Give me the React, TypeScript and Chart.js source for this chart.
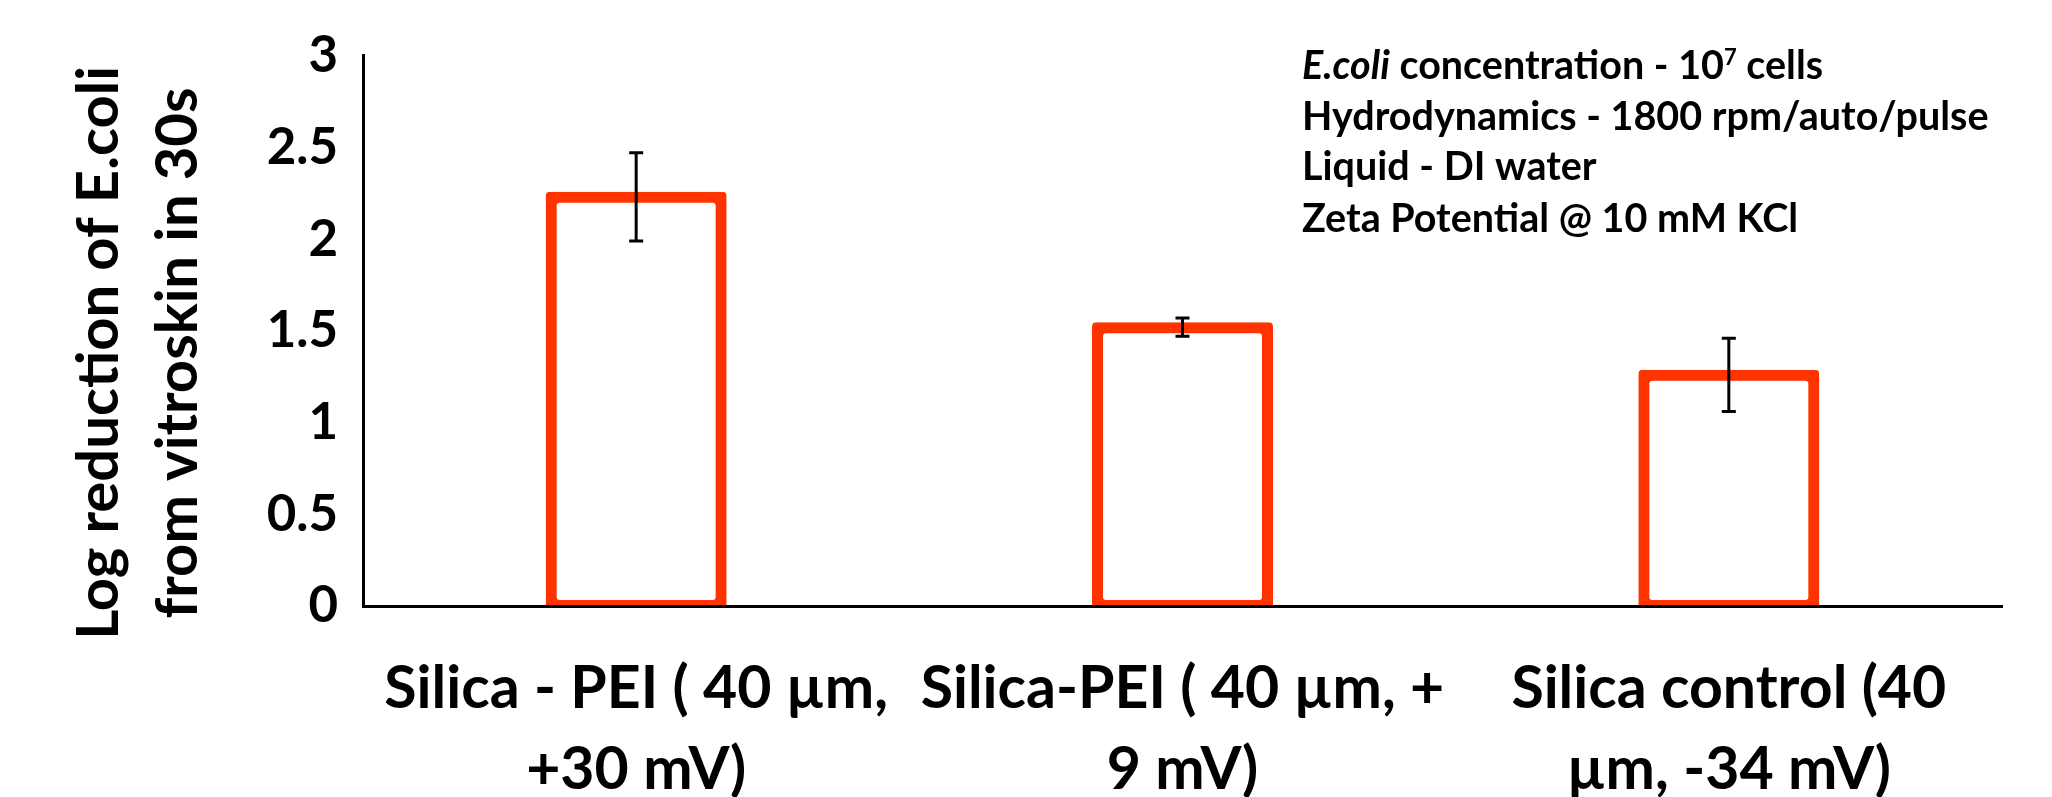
import React, { useEffect, useRef } from "react";
import { Chart, registerables } from "chart.js";

Chart.register(...registerables);

const categories: string[][] = [
  ["Silica - PEI ( 40 µm,", "+30 mV)"],
  ["Silica-PEI ( 40 µm, +", "9 mV)"],
  ["Silica control (40", "µm, -34 mV)"],
];
const values: number[] = [2.23, 1.52, 1.26];
const errors: number[] = [0.24, 0.05, 0.2];
const yTicks: number[] = [0, 0.5, 1, 1.5, 2, 2.5, 3];
const yTitle: string[] = ["Log reduction of E.coli", "from vitroskin in 30s"];

type Seg = { text: string; italic?: boolean; sup?: boolean };
const noteLines: Seg[][] = [
  [{ text: "E.coli", italic: true }, { text: " concentration - 10" }, { text: "7", sup: true }, { text: " cells" }],
  [{ text: "Hydrodynamics - 1800 rpm/auto/pulse" }],
  [{ text: "Liquid - DI water" }],
  [{ text: "Zeta Potential @ 10 mM KCl" }],
];

const FONT = "Lato";
const BAR_COLOR = "#FF3300";

const errorBarPlugin = {
  id: "errorBars",
  afterDatasetsDraw(chart: any) {
    const ctx = chart.ctx;
    const meta = chart.getDatasetMeta(0);
    const y = chart.scales.y;
    ctx.save();
    ctx.strokeStyle = "#000";
    ctx.lineWidth = 3;
    meta.data.forEach((bar: any, i: number) => {
      const x = bar.x;
      const top = y.getPixelForValue(values[i] + errors[i]);
      const bot = y.getPixelForValue(values[i] - errors[i]);
      ctx.beginPath();
      ctx.moveTo(x, top);
      ctx.lineTo(x, bot);
      ctx.moveTo(x - 7, top);
      ctx.lineTo(x + 7, top);
      ctx.moveTo(x - 7, bot);
      ctx.lineTo(x + 7, bot);
      ctx.stroke();
    });
    ctx.restore();
  },
};

const textPlugin = {
  id: "texts",
  afterDraw(chart: any) {
    const ctx = chart.ctx;
    ctx.save();
    ctx.fillStyle = "#000";
    // y-axis title (two rotated lines), baseline positions
    ctx.font = `bold 58px ${FONT}`;
    ctx.textAlign = "center";
    ctx.textBaseline = "alphabetic";
    const titleBaseX = [118, 197];
    yTitle.forEach((line, i) => {
      ctx.save();
      ctx.translate(titleBaseX[i], 353);
      ctx.rotate(-Math.PI / 2);
      ctx.fillText(line, 0, 0);
      ctx.restore();
    });
    // annotation block
    const size = 39.5;
    const startX = 1302;
    const baseY = [79, 130, 180, 232];
    ctx.textAlign = "left";
    noteLines.forEach((segs, li) => {
      let x = startX;
      segs.forEach((s) => {
        const fs = s.sup ? 22 : size;
        ctx.font = `${s.italic ? "italic " : ""}bold ${fs}px ${FONT}`;
        const yy = s.sup ? baseY[li] - 14 : baseY[li];
        ctx.fillText(s.text, x, yy);
        x += ctx.measureText(s.text).width;
      });
    });
    ctx.restore();
  },
};

export default function App() {
  const ref = useRef<HTMLCanvasElement | null>(null);
  useEffect(() => {
    document.body.style.margin = "0";
    const canvas = ref.current;
    if (!canvas) return;
    const chart = new Chart(canvas, {
      type: "bar",
      data: {
        labels: categories,
        datasets: [
          {
            data: values,
            backgroundColor: "rgba(255,255,255,0)",
            borderColor: BAR_COLOR,
            // thin border + inflate so the 11px outline straddles the bar edge (Excel style)
            borderWidth: 1,
            inflateAmount: 5,
            borderSkipped: false,
            borderRadius: 4,
            barPercentage: 0.313,
            categoryPercentage: 1,
          },
        ],
      },
      options: {
        responsive: false,
        animation: false,
        devicePixelRatio: 1,
        layout: { padding: { left: 0, right: 50, top: 52, bottom: 0 } },
        plugins: {
          legend: { display: false },
          tooltip: { enabled: false },
          title: { display: false },
        },
        scales: {
          x: {
            type: "category",
            grid: { display: false, drawTicks: false },
            border: { display: true, color: "#000", width: 3, z: 1 },
            ticks: {
              color: "#000",
              padding: 42,
              maxRotation: 0,
              autoSkip: false,
              font: { family: FONT, weight: "bold", size: 59, lineHeight: 81 / 59 },
            },
            afterFit: (scale: any) => {
              scale.height = 191;
            },
          },
          y: {
            type: "linear",
            min: 0,
            max: 3,
            grid: { display: false, drawTicks: false },
            border: { display: true, color: "#000", width: 3 },
            afterBuildTicks: (scale: any) => {
              scale.ticks = yTicks.map((v) => ({ value: v }));
            },
            ticks: {
              color: "#000",
              padding: 25,
              font: { family: FONT, weight: "bold", size: 51 },
              callback: (v: any) => String(v),
            },
            afterFit: (scale: any) => {
              scale.width = 363;
            },
          },
        },
      },
      plugins: [errorBarPlugin, textPlugin],
    });
    return () => chart.destroy();
  }, []);
  return <canvas ref={ref} width={2052} height={797} style={{ display: "block" }} />;
}
